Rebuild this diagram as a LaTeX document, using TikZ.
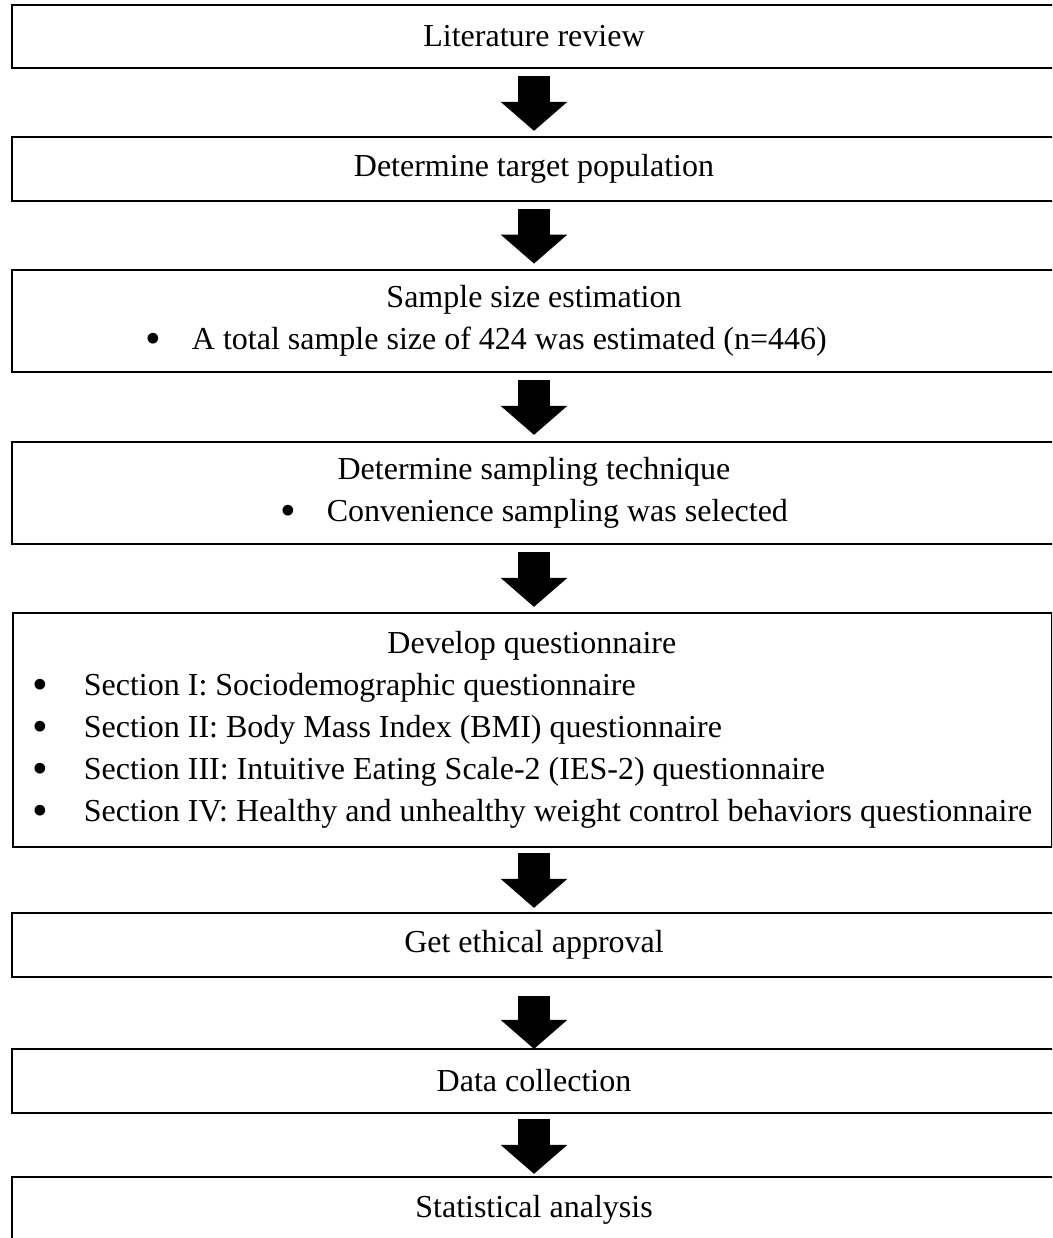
\documentclass[tikz,border=0pt]{standalone}
\usepackage{fontspec}
\usepackage{graphicx}
\setmainfont{Liberation Serif}
\usetikzlibrary{arrows.meta,calc}
\newcommand{\bigbul}{\raisebox{-3.5pt}{\scalebox{1.4}{\textbullet}}}
\tikzset{
  box/.style={draw=black, line width=2.2pt, inner sep=0pt, minimum width=1044pt,
    font=\fontsize{32}{42}\selectfont, align=center},
  bigarrow/.style={line width=32pt, -{Triangle[length=29pt,width=65pt]}}
}
\begin{document}
\begin{tikzpicture}[x=1pt,y=-1pt]
\useasboundingbox (0,0) rectangle (1052,1238);
\clip (0,0) rectangle (1052,1238);
\node[box, minimum height=63pt] (b1) at (534,36.5) {Literature review};
\node[box, minimum height=64pt] (b2) at (534,169) {Determine target population};
\node[box, minimum height=102pt] (b3) at (534,321) {Sample size estimation\\\bigbul\hspace{31pt}A total sample size of 424 was estimated (n=446)\hspace*{96pt}};
\node[box, minimum height=102pt] (b4) at (534,493) {Determine sampling technique\\\bigbul\hspace{31pt}Convenience sampling was selected};
\node[box, minimum height=234pt, minimum width=1039pt, align=left, inner xsep=19pt, anchor=west] (b5) at (12,730)
 {\makebox[998pt][c]{Develop questionnaire}\\
  \makebox[51pt][l]{\bigbul}Section I: Sociodemographic questionnaire\\
  \makebox[51pt][l]{\bigbul}Section II: Body Mass Index (BMI) questionnaire\\
  \makebox[51pt][l]{\bigbul}Section III: Intuitive Eating Scale-2 (IES-2) questionnaire\\
  \makebox[51pt][l]{\bigbul}Section IV: Healthy and unhealthy weight control behaviors questionnaire};
\node[box, minimum height=64pt] (b6) at (534,945) {Get ethical approval};
\node[box, minimum height=64pt] (b7) at (534,1081) {Data collection};
\node[box, minimum height=66pt] (b8) at (534,1210) {Statistical analysis};
\draw[bigarrow] ($(b1.south)+(0,7)$) -- ($(b2.north)+(0,-5)$);
\draw[bigarrow] ($(b2.south)+(0,7)$) -- ($(b3.north)+(0,-5.3)$);
\draw[bigarrow] ($(b3.south)+(0,7)$) -- ($(b4.north)+(0,-6)$);
\draw[bigarrow] ($(b4.south)+(0,7)$) -- ($(b4.south |- b5.north)+(0,-5)$);
\draw[bigarrow] ($(b4.south |- b5.south)+(0,5)$) -- ($(b6.north)+(0,-4)$);
\draw[bigarrow] ($(b6.south)+(0,18)$) -- ($(b7.north)+(0,1)$);
\draw[bigarrow] ($(b7.south)+(0,5)$) -- ($(b8.north)+(0,-2)$);
\end{tikzpicture}
\end{document}
